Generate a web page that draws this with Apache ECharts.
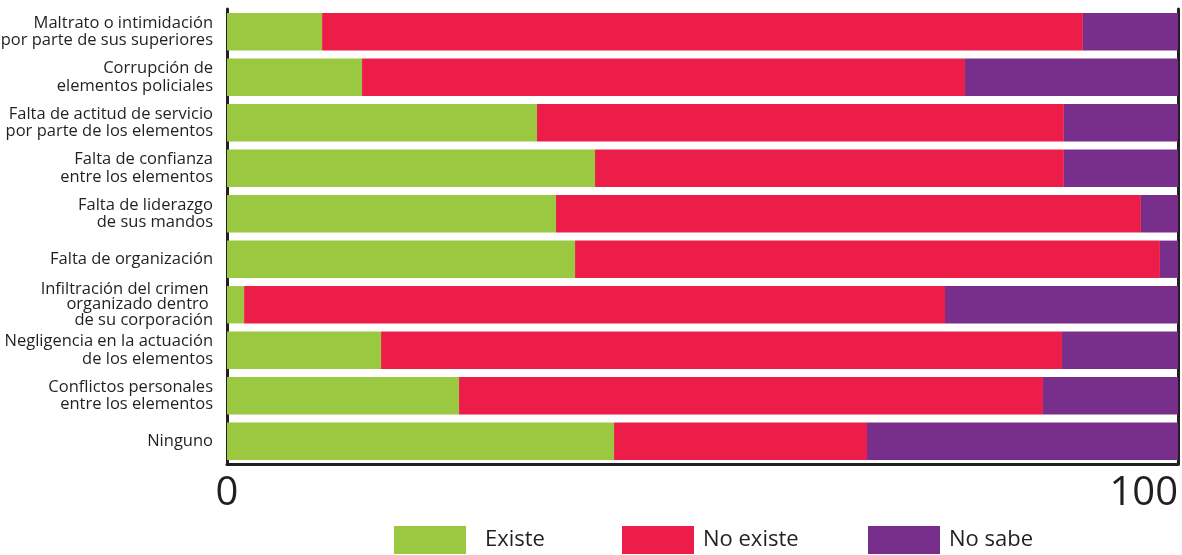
<!DOCTYPE html>
<html>
<head>
<meta charset="utf-8">
<script src="https://cdn.jsdelivr.net/npm/echarts@6/dist/echarts.min.js"></script>
<style>
  html, body { margin: 0; padding: 0; background: #fff; }
  #chart { width: 1182px; height: 555px; }
</style>
</head>
<body>
<div id="chart"></div>
<script>
// Problemas percibidos en la corporación (porcentaje de respuestas)
const categories = [
  'Maltrato o intimidación\npor parte de sus superiores',
  'Corrupción de\nelementos policiales',
  'Falta de actitud de servicio\npor parte de los elementos',
  'Falta de confianza\nentre los elementos',
  'Falta de liderazgo\nde sus mandos',
  'Falta de organización',
  'Infiltración del crimen \norganizado dentro \nde su corporación',
  'Negligencia en la actuación\nde los elementos',
  'Conflictos personales\nentre los elementos',
  'Ninguno'
];
const existe   = [10.0, 14.2, 32.6, 38.7, 34.6, 36.6, 1.8, 16.2, 24.4, 40.7];
const noExiste = [80.0, 63.4, 55.4, 49.3, 61.5, 61.5, 73.7, 71.6, 61.4, 26.6];
const noSabe   = [10.0, 22.4, 12.0, 12.0, 3.9, 1.9, 24.5, 12.2, 14.2, 32.7];
const seriesNames = ['Existe', 'No existe', 'No sabe'];
const colors = ['#9ac840', '#ec1e49', '#782e8b'];

const FONT = '"Open Sans", "Noto Sans", sans-serif';
const INK = '#231f20';

const chart = echarts.init(document.getElementById('chart'));

// three-line labels are set a little tighter than the two-line ones
const categoryItems = categories.map(c => {
  const lines = c.split('\n').length;
  return lines > 2 ? { value: c, textStyle: { lineHeight: 15.5 } } : c;
});

function legendAt(name, left, gap) {
  return {
    data: [name],
    left: left,
    top: 526,
    itemWidth: 72,
    itemHeight: 28,
    itemGap: 0,
    padding: 0,
    icon: 'rect',
    textStyle: { fontFamily: FONT, fontSize: 22, color: INK, padding: [10, 0, 0, gap] },
    selectedMode: false
  };
}

chart.setOption({
  animation: false,
  color: colors,
  textStyle: { fontFamily: FONT },
  legend: [legendAt('Existe', 394, 14), legendAt('No existe', 622, 4), legendAt('No sabe', 868, 4)],
  grid: { left: 227, right: 4, top: 9, bottom: 91, containLabel: false, outerBoundsMode: 'none' },
  xAxis: {
    type: 'value',
    min: 0,
    max: 100,
    interval: 100,
    axisLine: { show: true, lineStyle: { color: INK, width: 3 } },
    axisTick: { show: false },
    splitLine: { show: false },
    axisLabel: {
      fontFamily: FONT,
      fontSize: 40,
      color: INK,
      margin: 10,
      alignMaxLabel: 'right'
    }
  },
  yAxis: [
    {
      type: 'category',
      inverse: true,
      data: categoryItems,
      axisLine: { show: true, onZero: false, lineStyle: { color: INK, width: 3 } },
      axisTick: { show: false },
      axisLabel: {
        fontFamily: FONT,
        fontSize: 16.5,
        lineHeight: 17.5,
        color: INK,
        margin: 14,
        align: 'right',
        padding: [4, 0, 0, 0]
      }
    },
    {
      type: 'category',
      inverse: true,
      position: 'right',
      data: categories,
      axisLine: { show: true, onZero: false, lineStyle: { color: INK, width: 3 } },
      axisTick: { show: false },
      axisLabel: { show: false }
    }
  ],
  series: [existe, noExiste, noSabe].map((vals, i) => ({
    name: seriesNames[i],
    type: 'bar',
    stack: 'total',
    barCategoryGap: '18%',
    data: vals,
    itemStyle: { color: colors[i] }
  }))
});
</script>
</body>
</html>
